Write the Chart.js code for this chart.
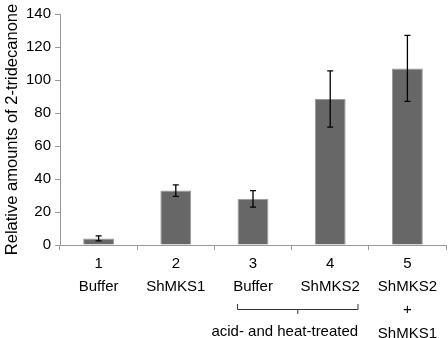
<!DOCTYPE html>
<html>
<head>
<meta charset="utf-8">
<script src="https://cdn.jsdelivr.net/npm/chart.js@4"></script>
<style>
  html, body { margin: 0; padding: 0; background: #fff; }
  #wrap { width: 448px; height: 338px; }
</style>
</head>
<body>
<div id="wrap"><canvas id="chart" width="448" height="338"></canvas></div>
<script>
const numbers = ['1', '2', '3', '4', '5'];
const names = [['Buffer'], ['ShMKS1'], ['Buffer'], ['ShMKS2'], ['ShMKS2', '+', 'ShMKS1']];
const amounts = [4, 33, 28, 88.5, 107];
const errors = [1.5, 3.5, 5, 17, 20];
const groupNote = 'acid- and heat-treated';

const labels = numbers.map((n, i) => [n].concat(names[i]));
const fontFamily = '"Liberation Sans", Arial, sans-serif';

const errorBars = {
    id: 'errorBars',
    afterDatasetsDraw(chart) {
        const ctx = chart.ctx;
        const x = chart.scales.x, y = chart.scales.y;
        ctx.save();
        ctx.strokeStyle = '#000';
        ctx.lineWidth = 1.3;
        amounts.forEach((v, i) => {
            const px = x.getPixelForValue(i);
            const top = y.getPixelForValue(v + errors[i]);
            const bot = y.getPixelForValue(v - errors[i]);
            ctx.beginPath();
            ctx.moveTo(px, top); ctx.lineTo(px, bot);
            ctx.moveTo(px - 3, top); ctx.lineTo(px + 3, top);
            ctx.moveTo(px - 3, bot); ctx.lineTo(px + 3, bot);
            ctx.stroke();
        });
        ctx.restore();
    }
};

const groupBracket = {
    id: 'groupBracket',
    afterDraw(chart) {
        const ctx = chart.ctx;
        const x = chart.scales.x;
        const w = x.getPixelForValue(1) - x.getPixelForValue(0);
        const left = x.getPixelForValue(2) - 0.2 * w;
        const right = x.getPixelForValue(3) + 0.36 * w;
        const mid = (left + right) / 2;
        ctx.save();
        ctx.strokeStyle = '#333';
        ctx.lineWidth = 1;
        ctx.beginPath();
        ctx.moveTo(left, 304); ctx.lineTo(left, 309.5); ctx.lineTo(right, 309.5); ctx.lineTo(right, 304);
        ctx.moveTo(mid, 309.5); ctx.lineTo(mid, 314);
        ctx.stroke();
        ctx.fillStyle = '#000';
        ctx.font = '15px ' + fontFamily;
        ctx.textAlign = 'center';
        ctx.textBaseline = 'middle';
        ctx.fillText(groupNote, mid - 13, 332);
        ctx.restore();
    }
};

new Chart(document.getElementById('chart'), {
    type: 'bar',
    data: {
        labels: labels,
        datasets: [{
            data: amounts,
            backgroundColor: '#676767',
            borderColor: '#9a9a9a',
            borderWidth: 1,
            categoryPercentage: 1,
            barPercentage: 0.4
        }]
    },
    options: {
        responsive: false,
        animation: false,
        layout: { padding: { top: 14, right: 2, bottom: 0, left: 3 } },
        plugins: {
            legend: { display: false },
            tooltip: { enabled: false }
        },
        scales: {
            x: {
                grid: { offset: true, drawOnChartArea: false, color: '#999', tickLength: 5 },
                border: { color: '#999' },
                ticks: {
                    color: '#000',
                    padding: 2,
                    maxRotation: 0,
                    autoSkip: false,
                    font: { family: fontFamily, size: 15, lineHeight: 1.55 }
                },
                afterFit(scale) { scale.height = 93; }
            },
            y: {
                min: 0,
                max: 140,
                grid: { drawOnChartArea: false, color: '#999', tickLength: 5 },
                border: { color: '#999' },
                ticks: {
                    stepSize: 20,
                    color: '#000',
                    padding: 4,
                    font: { family: fontFamily, size: 15 }
                },
                title: {
                    display: true,
                    text: 'Relative amounts of 2-tridecanone',
                    color: '#000',
                    padding: 0,
                    font: { family: fontFamily, size: 16.5 }
                },
                afterFit(scale) { scale.width = 57; }
            }
        }
    },
    plugins: [errorBars, groupBracket]
});
</script>
</body>
</html>
